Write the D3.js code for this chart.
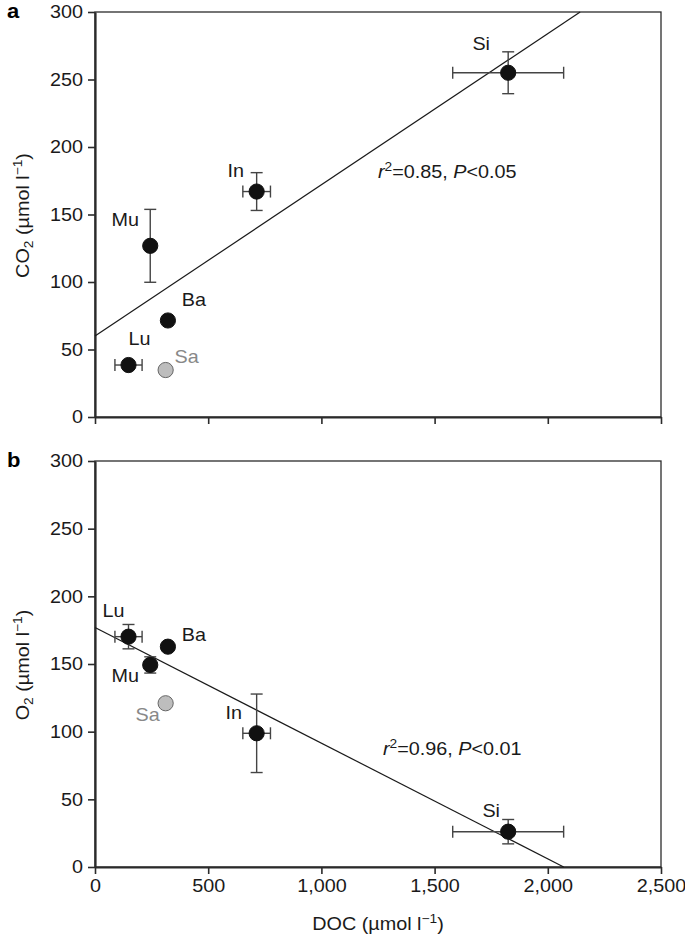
<!DOCTYPE html>
<html><head><meta charset="utf-8">
<script src="https://cdn.jsdelivr.net/npm/d3@7"></script>
<style>body{margin:0;background:#fff} text{font-family:"Liberation Sans",Arial,Helvetica,sans-serif}</style>
</head><body><svg id="c" width="685" height="934"></svg>
<script>
// ---- data ----
const sites=["Lu","Sa","Ba","Mu","In","Si"];
const doc=[148,312,322,244,714,1825];
const docErr=[60,0,0,0,61,245];
const co2=[38.5,34.8,71.5,126.8,167,255];
const co2Err=[0,0,0,27,14,15.5];
const o2=[170.2,121,162.8,149.3,98.8,26.1];
const o2Err=[9,0,0,6,29,9];
const isGrey=[false,true,false,false,false,false];
const xTicks=[0,500,1000,1500,2000,2500];
const yTicks=[0,50,100,150,200,250,300];
const fitCO2={intercept:60,slope:0.112,r2:"0.85",p:"0.05"};
const fitO2={intercept:177,slope:-0.0855,r2:"0.96",p:"0.01"};

// ---- layout ----
const SX=1.1, FS=18;
const svg=d3.select("#c");
const x=d3.scaleLinear().domain([0,2500]).range([95,661]);
const panels=[
  {letter:"a",y:d3.scaleLinear().domain([0,300]).range([417,12]),vals:co2,err:co2Err,fit:fitCO2,gas:"CO",
   showX:false,annot:[378,178],
   lab:{Lu:[11,-20],Sa:[21,-7],Ba:[26,-14],Mu:[-25,-20],In:[-21,-15],Si:[-27,-23]}},
  {letter:"b",y:d3.scaleLinear().domain([0,300]).range([867,461]),vals:o2,err:o2Err,fit:fitO2,gas:"O",
   showX:true,annot:[383,755],
   lab:{Lu:[-15,-20],Sa:[-18,18],Ba:[26,-6],Mu:[-25,17],In:[-23,-14],Si:[-17,-15]}}
];
const dark="#1a1a1a", axc="#2b2b2b", ebc="#444";
const data=sites.map((s,i)=>({s,i,x:doc[i],xe:docErr[i],grey:isGrey[i]}));

function stext(g,px,py,anchor){
  return g.append("text").attr("transform",`translate(${px},${py}) scale(${SX},1)`)
    .attr("text-anchor",anchor).attr("font-size",FS).attr("fill",dark);
}

panels.forEach(P=>{
  const y=P.y, g=svg.append("g");
  const [y0,y1]=y.range();
  // frame (top/right)
  g.append("rect").attr("x",x(0)).attr("y",y1).attr("width",x(2500)-x(0)).attr("height",y0-y1)
    .attr("fill","none").attr("stroke",axc).attr("stroke-width",1.3);
  // axes
  const ya=g.append("g").attr("transform",`translate(${x(0)},0)`)
    .call(d3.axisLeft(y).tickValues(yTicks).tickSize(7).tickPadding(4).tickSizeOuter(0));
  const xa=g.append("g").attr("transform",`translate(0,${y0})`)
    .call(d3.axisBottom(x).tickValues(xTicks).tickSize(7).tickPadding(5).tickSizeOuter(0)
      .tickFormat(P.showX?d3.format(","):()=>""));
  [ya,xa].forEach(a=>{
    a.select(".domain").attr("stroke",axc).attr("stroke-width",2.2);
    a.selectAll(".tick line").attr("stroke",axc).attr("stroke-width",1.6);
    a.selectAll(".tick text").attr("font-size",FS).attr("fill",dark)
      .attr("font-family","'Liberation Sans',Arial,sans-serif").attr("transform",`scale(${SX},1)`);
  });
  // regression line
  const f=P.fit;
  let xEnd=2500, yEnd=f.intercept+f.slope*2500;
  if(yEnd>300){xEnd=(300-f.intercept)/f.slope;yEnd=300;}
  if(yEnd<0){xEnd=(0-f.intercept)/f.slope;yEnd=0;}
  g.append("line").attr("x1",x(0)).attr("y1",y(f.intercept)).attr("x2",x(xEnd)).attr("y2",y(yEnd))
    .attr("stroke",dark).attr("stroke-width",1.2);
  // error bars
  const cap=6;
  const eb=g.append("g").attr("stroke",ebc).attr("stroke-width",1.4);
  data.forEach(d=>{
    const cx=x(d.x), cy=y(P.vals[d.i]), ye=P.err[d.i];
    if(d.xe>0){
      const xl=x(d.x-d.xe), xr=x(d.x+d.xe);
      eb.append("line").attr("x1",xl).attr("x2",xr).attr("y1",cy).attr("y2",cy);
      eb.append("line").attr("x1",xl).attr("x2",xl).attr("y1",cy-cap).attr("y2",cy+cap);
      eb.append("line").attr("x1",xr).attr("x2",xr).attr("y1",cy-cap).attr("y2",cy+cap);
    }
    if(ye>0){
      const yt=y(P.vals[d.i]+ye), yb=y(P.vals[d.i]-ye);
      eb.append("line").attr("x1",cx).attr("x2",cx).attr("y1",yt).attr("y2",yb);
      eb.append("line").attr("x1",cx-cap).attr("x2",cx+cap).attr("y1",yt).attr("y2",yt);
      eb.append("line").attr("x1",cx-cap).attr("x2",cx+cap).attr("y1",yb).attr("y2",yb);
    }
  });
  // points
  g.selectAll("circle.pt").data(data).join("circle").attr("class","pt")
    .attr("cx",d=>x(d.x)).attr("cy",d=>y(P.vals[d.i])).attr("r",7.6)
    .attr("fill",d=>d.grey?"#bdbdbd":"#111").attr("stroke",d=>d.grey?"#666":"#111").attr("stroke-width",1);
  // point labels
  data.forEach(d=>{
    const o=P.lab[d.s];
    stext(g,x(d.x)+o[0],y(P.vals[d.i])+o[1],"middle").attr("fill",d.grey?"#888":dark).text(d.s);
  });
  // annotation
  const t=stext(g,P.annot[0],P.annot[1],"start");
  t.append("tspan").attr("font-style","italic").text("r");
  t.append("tspan").attr("font-size",12.5).attr("dy",-7).text("2");
  t.append("tspan").attr("dy",7).text(`=${f.r2}, `);
  t.append("tspan").attr("font-style","italic").text("P");
  t.append("tspan").text(`<${f.p}`);
  // y title
  const yc=(y0+y1)/2;
  const yt=g.append("text").attr("transform",`translate(29,${yc+1}) rotate(-90) scale(${SX},1)`)
    .attr("text-anchor","middle").attr("font-size",FS).attr("fill",dark);
  yt.append("tspan").text(P.gas);
  yt.append("tspan").attr("font-size",12.5).attr("dy",4).text("2");
  yt.append("tspan").attr("dy",-4).text(" (\u00b5mol l");
  yt.append("tspan").attr("font-size",12.5).attr("dy",-7).text("\u22121");
  yt.append("tspan").attr("dy",7).text(")");
  // panel letter
  svg.append("text").attr("transform",`translate(7,${y1+6}) scale(${SX},1)`)
    .attr("font-size",20).attr("font-weight","bold").attr("fill","#000").text(P.letter);
});
// x title
const xt=stext(svg,(x(0)+x(2500))/2,930,"middle");
xt.append("tspan").text("DOC (\u00b5mol l");
xt.append("tspan").attr("font-size",12.5).attr("dy",-7).text("\u22121");
xt.append("tspan").attr("dy",7).text(")");
</script></body></html>
